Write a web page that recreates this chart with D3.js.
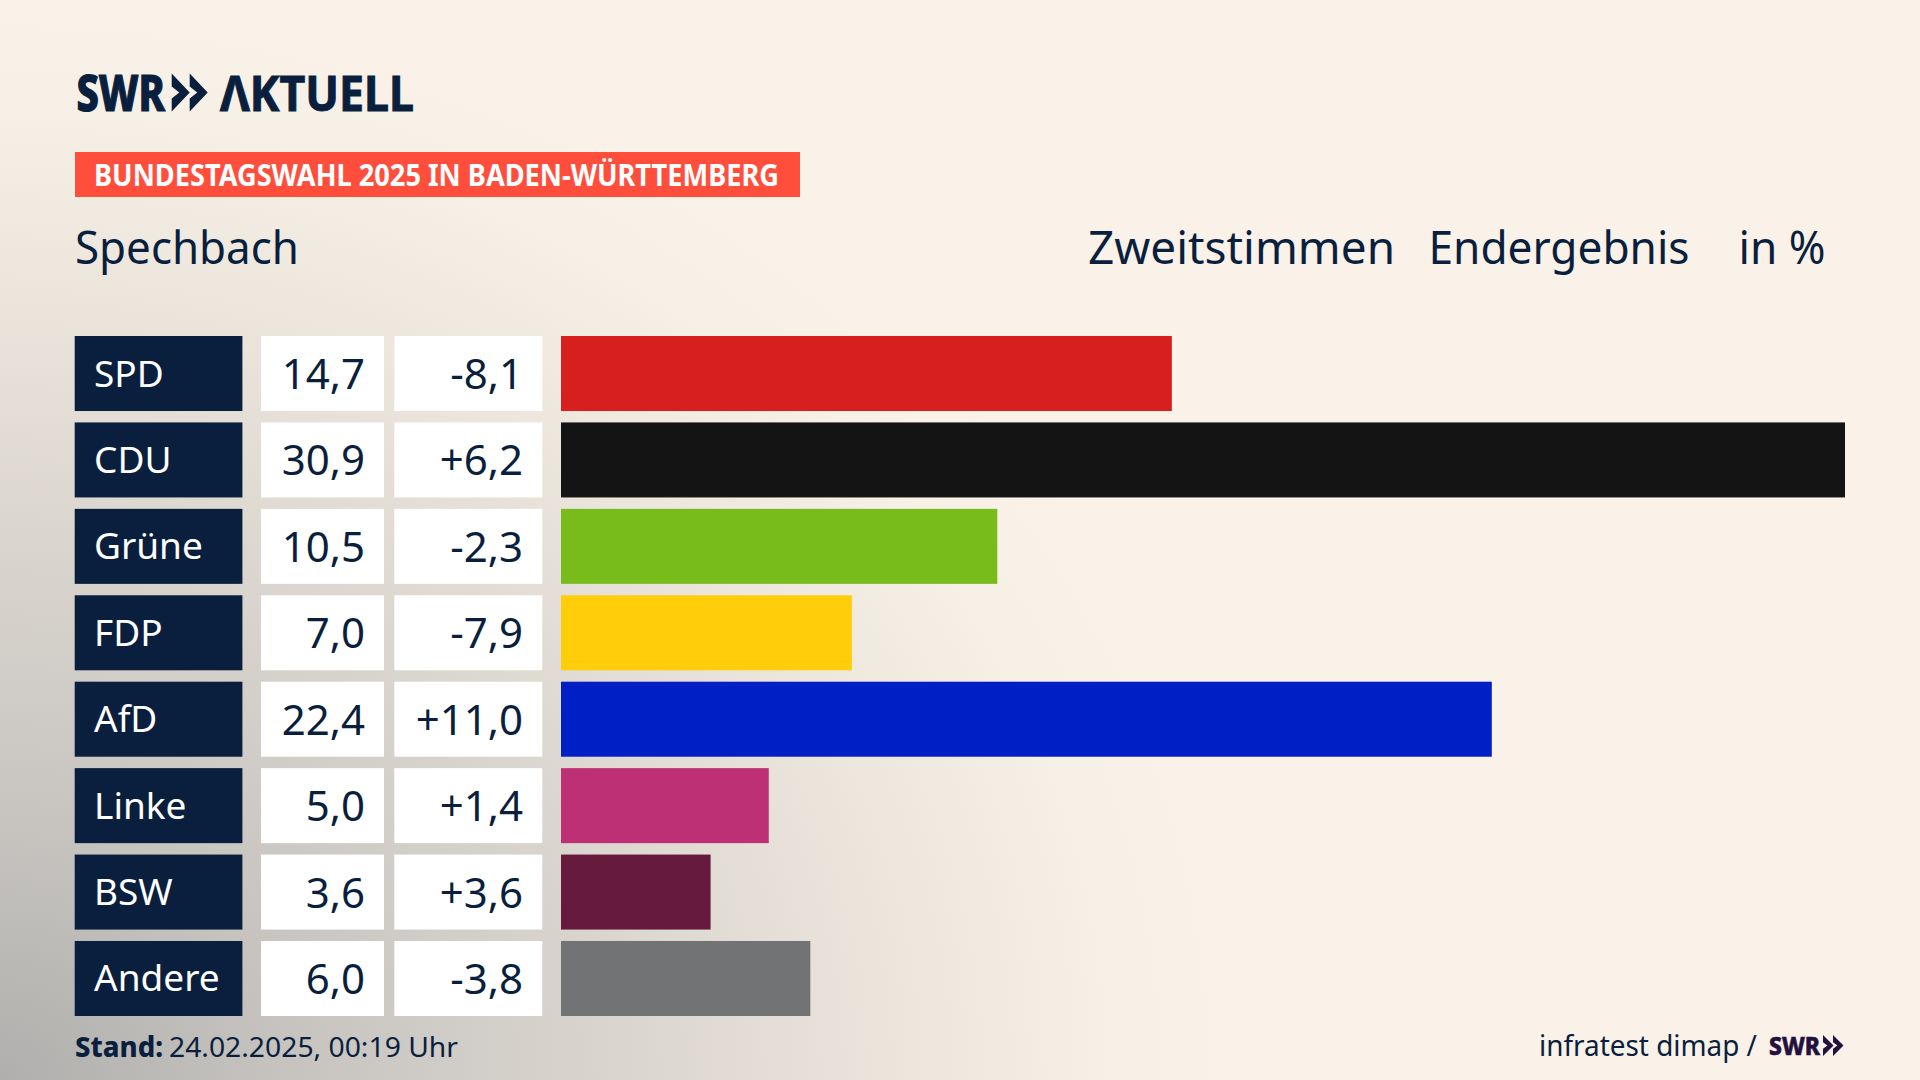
<!DOCTYPE html>
<html lang="de"><head><meta charset="utf-8">
<script src="https://cdn.jsdelivr.net/npm/d3@7/dist/d3.min.js"></script>
<style>
html,body{margin:0;padding:0;background:#faf2e8;overflow:hidden}
svg{display:block;font-family:"Noto Sans",sans-serif}
</style></head><body><svg id="c" width="1920" height="1080"></svg>
<script>
const parties=["SPD","CDU","Grüne","FDP","AfD","Linke","BSW","Andere"];
const shares=[14.7,30.9,10.5,7.0,22.4,5.0,3.6,6.0];
const changes=[-8.1,6.2,-2.3,-7.9,11.0,1.4,3.6,-3.8];
const colors=["#d71f1d","#141414","#78bc1b","#ffcd09","#001fc5","#bd3075","#661a3e","#727375"];
const navy="#0a1f3e";
const de=d3.format(".1f");
const fmt=v=>de(v).replace(".",",").replace("−","-");
const fmtD=v=>(v>0?"+":"")+fmt(v);

const svg=d3.select("#c");
const defs=svg.append("defs");
const g1=defs.append("radialGradient").attr("id","bg").attr("gradientUnits","userSpaceOnUse")
 .attr("cx",0).attr("cy",0).attr("r",1)
 .attr("gradientTransform","translate(0 1080) scale(1250 1090)");
[[0,"#b0afad"],[.25,"#c8c5c1"],[.5,"#dad5ce"],[.72,"#ebe5dc"],[.9,"#f7f0e6"],[1,"#faf2e8"]]
 .forEach(([o,c])=>g1.append("stop").attr("offset",o).attr("stop-color",c));
svg.append("rect").attr("width",1920).attr("height",1080).attr("fill","#faf2e8");
svg.append("rect").attr("width",1920).attr("height",1080).attr("fill","url(#bg)");

function txt(s,x,y,size,w,opt={}){
  const t=svg.append("text").attr("x",x).attr("y",y).attr("font-size",size)
   .attr("fill",opt.fill||navy).attr("font-weight",opt.weight||400).text(s);
  if(w) t.attr("textLength",w).attr("lengthAdjust","spacingAndGlyphs");
  if(opt.stroke) t.attr("stroke",opt.fill||navy).attr("stroke-width",opt.stroke);
  return t;
}
function chevrons(x,y,cw,h,off,fill){
  const n=cw*0.42, s=h*0.34;
  [0,off].forEach(d=>{
    const a=x+d;
    svg.append("path").attr("fill",fill).attr("d",
     `M${a} ${y}L${a+cw} ${y+h/2}L${a} ${y+h}L${a} ${y+h-s}L${a+n} ${y+h/2}L${a} ${y+s}Z`);
  });
}
// Logo
txt("SWR",76.5,110.5,49,88.5,{weight:800,stroke:1.2});
chevrons(171.7,73.5,18,38,18,navy);
txt("ΛKTUELL",220,110.5,49,194,{weight:700,stroke:1});
// Banner
svg.append("rect").attr("x",75).attr("y",152).attr("width",725).attr("height",45).attr("fill","#ff4f3c");
txt("BUNDESTAGSWAHL 2025 IN BADEN-WÜRTTEMBERG",94,186,30,685,{weight:700,fill:"#fff"});
// Headers
txt("Spechbach",75,264,45,224);
txt("Zweitstimmen",1088,264,45,307);
txt("Endergebnis",1428.5,264,45,261);
txt("in %",1738.5,264,45,87);

const x=d3.scaleLinear().domain([0,30.9]).range([561,1845]);
const y=d3.scaleBand().domain(parties).range([336,1016]).paddingInner(0.132);
const row=svg.append("g").selectAll("g").data(parties).join("g");
const H=y.bandwidth();
row.append("rect").attr("x",74.7).attr("y",d=>y(d)).attr("width",167.7).attr("height",H).attr("fill",navy);
row.append("rect").attr("x",261).attr("y",d=>y(d)).attr("width",123).attr("height",H).attr("fill","#fff");
row.append("rect").attr("x",394.3).attr("y",d=>y(d)).attr("width",148).attr("height",H).attr("fill","#fff");
row.append("rect").attr("x",x(0)).attr("y",d=>y(d)).attr("height",H)
 .attr("width",(d,i)=>x(shares[i])-x(0)).attr("fill",(d,i)=>colors[i]);
row.append("text").attr("x",94).attr("y",d=>y(d)+H/2+13).attr("font-size",37).attr("fill","#fff").text(d=>d);
row.append("text").attr("x",365).attr("y",d=>y(d)+H/2+15.5).attr("font-size",42).attr("fill",navy).attr("text-anchor","end").text((d,i)=>fmt(shares[i]));
row.append("text").attr("x",523).attr("y",d=>y(d)+H/2+15.5).attr("font-size",42).attr("fill",navy).attr("text-anchor","end").text((d,i)=>fmtD(changes[i]));
// Footer
txt("Stand:",75,1057,28,88,{weight:800});
txt("24.02.2025, 00:19 Uhr",169,1057,28,289);
txt("infratest dimap /",1539,1056,29,218);
txt("SWR",1769,1054.5,25.5,51,{weight:800,stroke:.6,fill:"#23103f"});
chevrons(1823,1035,10.5,21,10,"#23103f");
</script></body></html>
